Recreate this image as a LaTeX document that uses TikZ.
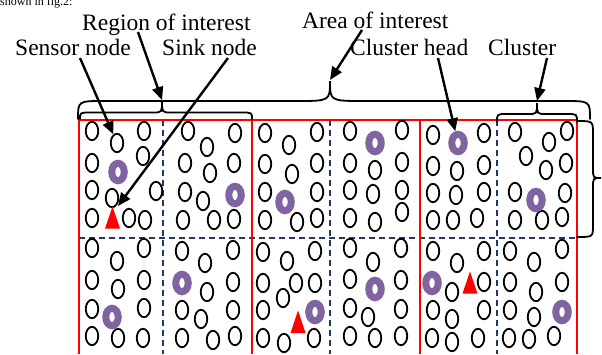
\documentclass[tikz,border=0pt]{standalone}
\usepackage{fontspec}
\setmainfont{Liberation Serif}
\usetikzlibrary{arrows.meta,shapes.geometric}

\definecolor{headpurple}{RGB}{128,100,162}
\definecolor{gridnavy}{RGB}{31,56,100}
\definecolor{sinkred}{RGB}{255,0,0}

% horizontal curly brace: x-left, x-right, x-tip, y-ends, y-flat, y-tip, end radius, tip radius
\newcommand\hbrace[8]{%
  \draw[bracestyle] (#1,#4) .. controls (#1,#5) .. ({#1+#7},#5) -- ({#3-#8},#5)
    .. controls (#3,#5) .. (#3,#6) .. controls (#3,#5) .. ({#3+#8},#5)
    -- ({#2-#7},#5) .. controls (#2,#5) .. (#2,#4);}

\begin{document}
\begin{tikzpicture}[x=1pt,y=-1pt,
  sensor/.style={ellipse,draw=black,fill=white,line width=1.8pt,
    minimum width=12.5pt,minimum height=18.5pt,inner sep=0pt},
  chead/.style={ellipse,draw=headpurple,fill=white,line width=7pt,
    minimum width=12.5pt,minimum height=17.5pt,inner sep=0pt},
  sinkstyle/.style={fill=sinkred},
  redline/.style={draw=sinkred,line width=1.5pt},
  dashline/.style={draw=gridnavy,line width=1.5pt,dash pattern=on 6pt off 4pt},
  bracestyle/.style={draw=black,line width=1.8pt,line cap=round},
  lbl/.style={font=\fontsize{23.5}{28}\selectfont,inner sep=0pt,anchor=base west},
  pointer/.style={draw=black,line width=2.4pt,-{Triangle[length=13pt,width=11pt]}}]

\useasboundingbox (0,0) rectangle (602,354);

% closing words of the text line above
\node[font=\fontsize{12}{14}\selectfont,inner sep=0pt,anchor=base west] (intro) at (0,5) {shown in fig.2:};

% cluster grid: dashed cluster borders, red region borders
\draw[dashline] (79,238) -- (577,238);
\foreach \gx in {163,330,497} \draw[dashline] (\gx,120) -- (\gx,354);
\draw[redline] (79,354) -- (79,120) -- (577,120) -- (577,354);
\foreach \gx in {252,420} \draw[redline] (\gx,120) -- (\gx,354);

% ordinary sensor nodes
\foreach \px/\py [count=\i] in {
  92/131,144/131,92/163,143/156,92/190,112/198,156/191,92/218,129/218,145/220,
  188/131,207/147,235/133,185/163,210/173,234/163,185/192,203/201,183/220,214/220,234/219,
  265/133,289/145,317/132,265/164,292/174,317/163,265/192,317/192,265/220,297/222,317/218,
  350/131,402/130,350/163,375/170,402/162,350/190,373/194,402/190,350/218,375/222,402/212,
  433/135,484/133,433/166,457/171,484/165,433/193,456/195,484/192,433/220,453/220,477/218,
  515/132,549/142,567/131,526/156,546/170,566/163,515/192,565/193,515/220,542/220,562/217,
  92/248,117/261,144/248,92/280,118/289,144/280,92/309,144/308,92/336,118/338,143/338,
  182/251,205/263,233/250,207/292,233/282,182/310,201/319,233/310,182/338,213/340,235/336,
  263/252,287/261,315/251,263/283,296/283,315/283,283/298,263/310,263/338,284/343,314/338,
  350/248,373/262,401/248,350/279,401/280,350/308,368/317,401/309,350/336,375/338,401/336,
  433/251,457/263,484/251,452/292,484/282,433/310,452/319,484/310,432/338,452/342,478/338,
  510/251,534/262,562/249,510/282,536/292,562/282,510/310,534/317,509/338,529/339,554/336}
  \node[sensor] (s\i) at (\px,\py) {};
\node[sensor] (sensor) at (117,143) {};

% cluster heads
\foreach \px/\py [count=\i] in {
  118/172,235/195,285/202,375/143,536/200,
  112/317,182/283,315/312,375/289,432/283,562/312}
  \node[chead] (h\i) at (\px,\py) {};
\node[chead] (head) at (458,143) {};

% sink nodes
\fill[sinkstyle] (112.5,206.5) coordinate (sink) -- (105,228.5) -- (120,228.5) -- cycle;
\fill[sinkstyle] (298,310.5) coordinate (sinkb) -- (290.5,333) -- (305.5,333) -- cycle;
\fill[sinkstyle] (470,271.5) coordinate (sinkc) -- (462.5,293.5) -- (477.5,293.5) -- cycle;

% braces
\hbrace{78}{590}{330}{119}{101}{81}{26}{34}
\hbrace{80}{252}{162}{119}{112.5}{101}{11}{9}
\hbrace{497}{577}{537}{122}{114}{103}{10}{9}
\draw[bracestyle] (577,121) .. controls (593,121) .. (593,134) -- (593,168)
  .. controls (593,178) .. (601,178) .. controls (593,178) .. (593,188)
  -- (593,225) .. controls (593,237) .. (577,237);
\coordinate (roitip) at (162,100);
\coordinate (aoitip) at (330,80);
\coordinate (clustertip) at (537,101);
\coordinate (sinktip) at (118,206);

% labels
\node[lbl] (roi) at (82,30) {Region of interest};
\node[lbl] (aoi) at (302,28) {Area of interest};
\node[lbl] (sensorlbl) at (15,55) {Sensor node};
\node[lbl] (sinklbl) at (162,55) {Sink node};
\node[lbl] (headlbl) at (350,55) {Cluster head};
\node[lbl] (clusterlbl) at (488,55) {Cluster};

% pointers from labels
\coordinate (roifrom) at (138,32);
\coordinate (aoifrom) at (362,30);
\coordinate (sensorfrom) at (80,58);
\coordinate (sinkfrom) at (228,58);
\coordinate (headfrom) at (438,58);
\coordinate (clusterfrom) at (547,58);
\draw[pointer] (roifrom) -- (roitip);
\draw[pointer] (aoifrom) -- (aoitip);
\draw[pointer] (sensorfrom) -- (sensor);
\draw[pointer] (sinkfrom) -- (sinktip);
\draw[pointer] (headfrom) -- (head);
\draw[pointer] (clusterfrom) -- (clustertip);
\end{tikzpicture}
\end{document}
